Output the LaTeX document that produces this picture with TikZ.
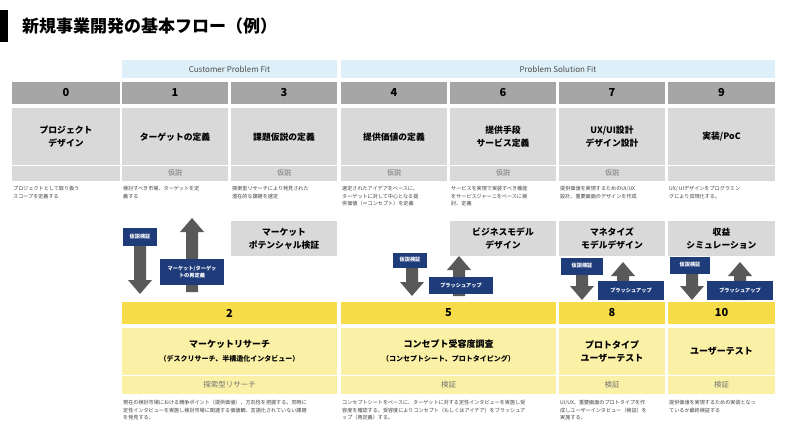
\documentclass[tikz,border=0pt]{standalone}
\usepackage{fontspec}
\setmainfont{Noto Sans CJK JP}
\definecolor{hdr}{HTML}{DDEFF8}
\definecolor{gnum}{HTML}{A6A6A6}
\definecolor{gbox}{HTML}{D9D9D9}
\definecolor{ynum}{HTML}{F7DC4A}
\definecolor{ybox}{HTML}{FAF1A6}
\definecolor{ynav}{HTML}{1F3C7A}
\definecolor{arr}{HTML}{595959}
\tikzset{
 bx/.style={inner sep=0,outer sep=0,align=center},
 lbl/.style={fill=ynav,text=white,font=\fontsize{5.2}{7}\selectfont\bfseries,inner sep=0,align=center},
 desc/.style={anchor=north west,inner sep=0,align=left,font=\fontsize{5.1}{7.6}\selectfont,text=black!75},
}
\newcommand{\dnarr}[3]{% x, ytop, ybot
 \fill[arr] (#1-6,#2) -- (#1+6,#2) -- (#1+6,#3-14) -- (#1+12,#3-14) -- (#1,#3) -- (#1-12,#3-14) -- (#1-6,#3-14) -- cycle;}
\newcommand{\uparr}[3]{% x, ytop, ybot
 \fill[arr] (#1-6,#3) -- (#1+6,#3) -- (#1+6,#2+14) -- (#1+12,#2+14) -- (#1,#2) -- (#1-12,#2+14) -- (#1-6,#2+14) -- cycle;}
\begin{document}
\begin{tikzpicture}[x=1pt,y=-1pt]
\useasboundingbox[fill=white] (0,0) rectangle (800,441);
\fill[black] (0,10) rectangle (8,42);
\node[anchor=west,inner sep=0,font=\fontsize{17}{19}\selectfont\bfseries] (title) at (22,26) {新規事業開発の基本フロー（例）};
% headers
\fill[hdr] (122,60) rectangle (337,78);
\fill[hdr] (341,60) rectangle (775,78);
\node[font=\fontsize{8}{9}\selectfont,text=black!70] (cpf) at (229.5,69) {Customer Problem Fit};
\node[font=\fontsize{8}{9}\selectfont,text=black!70] (psf) at (558,69) {Problem Solution Fit};
% top columns
\foreach \n/\a/\b/\t/\k/\d in {
 0/12/120/{プロジェクト\\デザイン}/{}/{プロジェクトとして取り扱う\\スコープを定義する},
 1/122/228/{ターゲットの定義}/仮説/{検討すべき市場、ターゲットを定\\義する},
 3/231/337/{課題仮説の定義}/仮説/{探索型リサーチにより発見された\\潜在的な課題を選定},
 4/341/447/{提供価値の定義}/仮説/{選定されたアイデアをベースに、\\ターゲットに対して中心となる提\\供価値（＝コンセプト）を定義},
 6/450/556/{提供手段\\サービス定義}/仮説/{サービスを実現で実装すべき機能\\をサービスジャーニをベースに検\\討、定義},
 7/559/665/{UX/UI設計\\デザイン設計}/仮説/{提供価値を実現するためのUI/UX\\設計、重要画面のデザインを作成},
 9/668/775/{実装/PoC}/{}/{UX/ UIデザインをプログラミン\\グにより具現化する。}}{
 \fill[gnum] (\a,82) rectangle (\b,104);
 \node[font=\fontsize{11}{12}\selectfont\bfseries] (n\n) at ({(\a+\b)/2},93) {\n};
 \fill[gbox] (\a,108) rectangle (\b,181);
 \draw[white,line width=0.6] (\a,165) -- (\b,165);
 \node[bx,font=\fontsize{8.8}{13}\selectfont\bfseries] (t\n) at ({(\a+\b)/2},137) {\t};
 \node[font=\fontsize{7}{8}\selectfont,text=black!55] (k\n) at ({(\a+\b)/2},173) {\k};
 \node[desc] (d\n) at (\a+1,186) {\d};
}
% extra gray boxes
\foreach \m/\a/\b/\t in {p/231/337/{マーケット\\ポテンシャル検証},b/450/556/{ビジネスモデル\\デザイン},m/559/665/{マネタイズ\\モデルデザイン},s/668/775/{収益\\シミュレーション}}{
 \fill[gbox] (\a,221) rectangle (\b,256);
 \node[bx,font=\fontsize{8.8}{13}\selectfont\bfseries] (x\m) at ({(\a+\b)/2},238.5) {\t};
}
% arrows
\dnarr{140}{240}{294} \uparr{192}{218}{292}
\node[lbl,minimum width=34,minimum height=18] (l1) at (140,237) {仮説検証};
\node[lbl,minimum width=64,minimum height=26] (l2) at (192,272) {マーケット/ターゲッ\\トの再定義};
\dnarr{412}{262}{296} \uparr{459}{256}{296}
\node[lbl,minimum width=34,minimum height=15] (l3) at (410,260) {仮説検証};
\node[lbl,minimum width=64,minimum height=17] (l4) at (461,285) {ブラッシュアップ};
\dnarr{582}{268}{300} \uparr{623}{262}{300}
\node[lbl,minimum width=42,minimum height=17] (l5) at (582,266) {仮説検証};
\node[lbl,minimum width=66,minimum height=19] (l6) at (631,290) {ブラッシュアップ};
\dnarr{692}{268}{300} \uparr{740}{262}{300}
\node[lbl,minimum width=40,minimum height=17] (l7) at (690,265) {仮説検証};
\node[lbl,minimum width=66,minimum height=19] (l8) at (740,290) {ブラッシュアップ};
% bottom columns
\foreach \n/\a/\b/\t/\d in {
 2/122/337/{マーケットリサーチ\\[1pt]{\fontsize{7}{9}\selectfont（デスクリサーチ、半構造化インタビュー）}}/{現在の検討市場における競争ポイント（提供価値）、方向性を把握する。同時に\\定性インタビューを実施し検討市場に関連する価値観、言語化されていない課題\\を発見する。},
 5/341/556/{コンセプト受容度調査\\[1pt]{\fontsize{7}{9}\selectfont（コンセプトシート、プロトタイピング）}}/{コンセプトシートをベースに、ターゲットに対する定性インタビューを実施し受\\容度を確認する。受容度によりコンセプト（もしくはアイデア）をブラッシュア\\ップ（再定義）する。},
 8/559/665/{プロトタイプ\\ユーザーテスト}/{UI/UX、重要画面のプロトタイプを作\\成しユーザーインタビュー（検証）を\\実施する。},
 10/668/775/{ユーザーテスト}/{提供価値を実現するための実装となっ\\ているか最終検証する}}{
 \fill[ynum] (\a,302) rectangle (\b,324);
 \node[font=\fontsize{11}{12}\selectfont\bfseries] (n\n) at ({(\a+\b)/2},313) {\n};
 \fill[ybox] (\a,328) rectangle (\b,394);
 \draw[white,line width=0.6] (\a,375) -- (\b,375);
 \node[bx,font=\fontsize{9}{13}\selectfont\bfseries] (t\n) at ({(\a+\b)/2},351) {\t};
 \node[desc] (d\n) at (\a+1,400) {\d};
}
\node[font=\fontsize{7.5}{9}\selectfont,text=black!55] (k2) at (229.5,384.5) {探索型リサーチ};
\node[font=\fontsize{7.5}{9}\selectfont,text=black!55] (k5) at (448.5,384.5) {検証};
\node[font=\fontsize{7.5}{9}\selectfont,text=black!55] (k8) at (612,384.5) {検証};
\node[font=\fontsize{7.5}{9}\selectfont,text=black!55] (k10) at (721.5,384.5) {検証};
\end{tikzpicture}
\end{document}
